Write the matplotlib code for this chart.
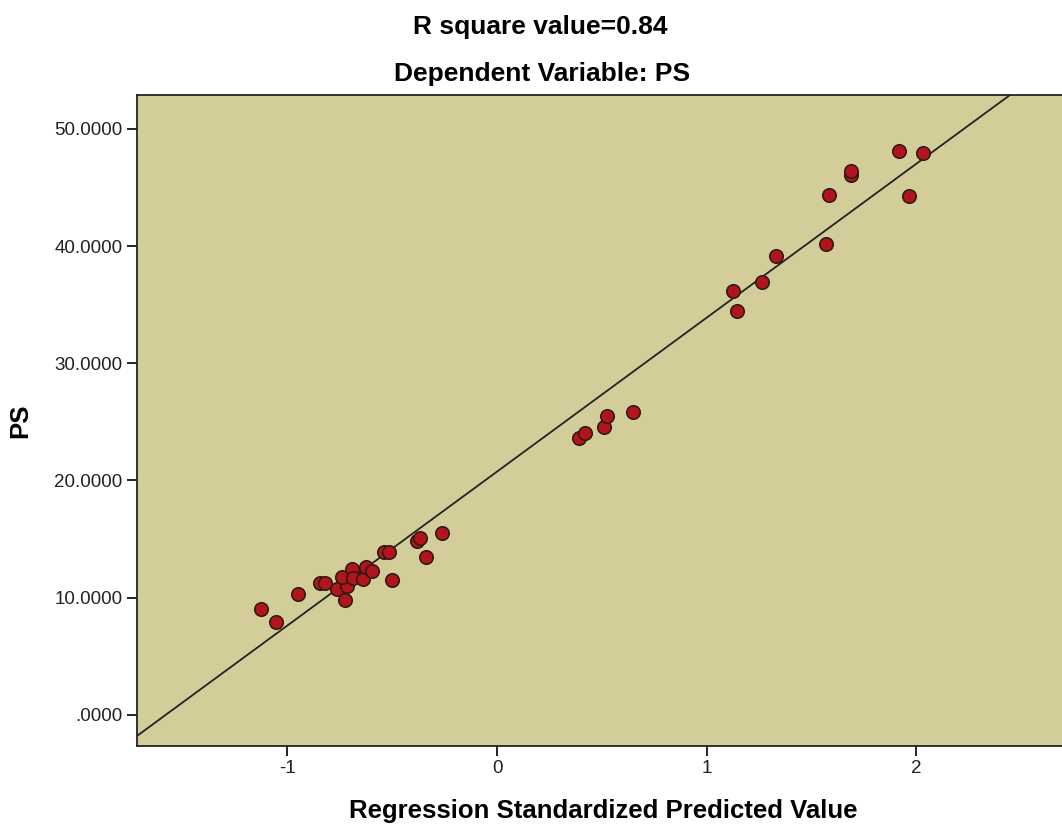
"""SPSS-style scatter: PS vs regression standardized predicted value."""
import matplotlib
matplotlib.use("Agg")
import matplotlib.pyplot as plt
import numpy as np
from matplotlib.ticker import FuncFormatter

# values
pred_std = [-1.125, -1.054, -0.949, -0.844, -0.820, -0.763, -0.725, -0.715,
            -0.739, -0.691, -0.687, -0.639, -0.625, -0.596, -0.501, -0.539,
            -0.515, -0.381, -0.367, -0.339, -0.262,
            0.391, 0.420, 0.510, 0.525, 0.649,
            1.144, 1.125, 1.264, 1.330, 1.569, 1.583, 1.688, 1.688,
            1.917, 2.031, 1.965]
ps = [9.04, 7.94, 10.32, 11.26, 11.26, 10.75, 9.80, 11.00,
      11.77, 12.45, 11.69, 11.60, 12.63, 12.29, 11.52, 13.90,
      13.90, 14.85, 15.10, 13.50, 15.50,
      23.63, 24.06, 24.57, 25.50, 25.85,
      34.47, 36.18, 36.95, 39.16, 40.19, 44.37, 46.07, 46.42,
      48.12, 47.95, 44.28]

FIT_INTERCEPT = 20.76
FIT_SLOPE = 13.14

x_ticks = [-1, 0, 1, 2]
y_ticks = [0, 10, 20, 30, 40, 50]

BG = "#D3CE99"
DOT = "#B0141C"

plt.rcParams["font.family"] = ["Liberation Sans", "DejaVu Sans"]

fig = plt.figure(figsize=(10.62, 8.26), dpi=100)
ax = fig.add_axes([0.129, 0.097, 0.871, 0.788])
ax.set_facecolor(BG)

xlim = (-1.717, 2.694)
ylim = (-2.65, 52.9)

xs = np.array(xlim)
ax.plot(xs, FIT_INTERCEPT + FIT_SLOPE * xs, color="#222222", lw=1.3, zorder=2)
ax.scatter(pred_std, ps, s=95, c=DOT, edgecolors="#2a1a10", linewidths=1.1,
           zorder=3)

ax.set_xlim(*xlim); ax.set_ylim(*ylim)
ax.set_xticks(x_ticks); ax.set_yticks(y_ticks)
ax.xaxis.set_major_formatter(FuncFormatter(lambda v, p: f"{int(v)}"))
ax.yaxis.set_major_formatter(
    FuncFormatter(lambda v, p: f"{v:.4f}".lstrip("0") if v == 0 else f"{v:.4f}"))
ax.tick_params(direction="out", length=7, width=1.4, labelsize=13.5,
               colors="#222222")
for side in ("left", "top", "bottom"):
    ax.spines[side].set_linewidth(1.3)
    ax.spines[side].set_color("#222222")
ax.spines["right"].set_visible(False)

ax.set_xlabel("Regression Standardized Predicted Value", fontsize=18.5,
              fontweight="bold", va="center")
ax.set_ylabel("PS", fontsize=18.5, fontweight="bold", va="center")
ax.xaxis.set_label_coords(0.504, -0.1)
ax.yaxis.set_label_coords(-0.1265, 0.5)

fig.text(0.509, 0.967, "R square value=0.84", ha="center", va="center",
         fontsize=19, fontweight="bold")
fig.text(0.510, 0.911, "Dependent Variable: PS", ha="center", va="center",
         fontsize=19, fontweight="bold")

fig.savefig("out.png", dpi=100)
